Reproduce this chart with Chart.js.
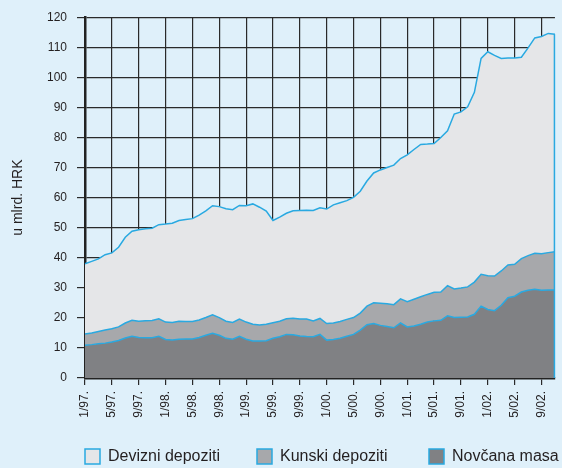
<!DOCTYPE html>
<html>
<head>
<meta charset="utf-8">
<script src="https://cdn.jsdelivr.net/npm/chart.js@4.4.1/dist/chart.umd.min.js"></script>
<style>
  html, body { margin: 0; padding: 0; background: #dff0fa; }
  #wrap { width: 562px; height: 468px; }
</style>
</head>
<body>
<div id="wrap"><canvas id="chart"></canvas></div>
<script>
// --- DATA (u mlrd. HRK, monthly 1/97 - 11/02) ---
const seriesNames = ["Novčana masa", "Kunski depoziti", "Devizni depoziti"];

const novcanaMasa = [
  10.9, 11.1, 11.4, 11.6, 12.0, 12.5, 13.3, 13.9, 13.5, 13.4, 13.4, 13.9,
  12.8, 12.6, 12.9, 13.0, 13.0, 13.5, 14.2, 14.9, 14.2, 13.2, 12.9, 13.9,
  12.9, 12.3, 12.3, 12.4, 13.2, 13.7, 14.5, 14.4, 14.0, 13.8, 13.7, 14.5,
  12.6, 12.8, 13.2, 13.9, 14.5, 15.9, 17.7, 18.1, 17.5, 17.1, 16.7, 18.3,
  17.0, 17.3, 17.9, 18.6, 19.0, 19.2, 20.7, 20.1, 20.2, 20.3, 21.2, 23.9,
  22.8, 22.4, 24.2, 26.7, 27.2, 28.6, 29.2, 29.5, 29.2, 29.3, 29.3
];
const kunskiDepoziti = [
  3.7, 3.9, 4.1, 4.4, 4.4, 4.5, 5.0, 5.3, 5.4, 5.6, 5.7, 5.8,
  5.8, 5.9, 6.0, 5.8, 5.8, 5.8, 5.9, 6.1, 5.9, 5.7, 5.6, 5.7,
  5.7, 5.6, 5.3, 5.5, 5.2, 5.2, 5.2, 5.5, 5.6, 5.8, 5.3, 5.3,
  5.5, 5.5, 5.6, 5.6, 5.6, 5.7, 6.2, 6.9, 7.4, 7.6, 7.7, 8.0,
  8.4, 8.9, 9.1, 9.2, 9.5, 9.4, 10.0, 9.5, 9.7, 10.0, 10.7, 10.6,
  11.2, 11.5, 11.4, 10.9, 10.6, 11.1, 11.5, 12.0, 12.1, 12.4, 12.7
];
const devizniDepoziti = [
  23.4, 23.8, 24.1, 25.0, 25.2, 26.5, 28.5, 29.6, 30.4, 30.6, 30.7, 31.3,
  32.6, 33.0, 33.5, 33.9, 34.2, 34.9, 35.5, 36.3, 36.9, 37.4, 37.5, 37.8,
  38.7, 40.0, 39.2, 37.6, 34.0, 34.6, 35.1, 35.7, 36.1, 36.2, 36.7, 36.8,
  38.1, 39.3, 39.5, 39.5, 40.0, 40.5, 41.6, 43.2, 44.3, 45.3, 46.4, 46.7,
  48.8, 49.8, 50.7, 50.0, 49.5, 51.4, 51.5, 58.2, 58.6, 59.9, 63.1, 71.8,
  74.5, 73.4, 70.7, 68.8, 68.6, 67.0, 69.1, 71.6, 72.3, 72.9, 72.3
];

// month labels "1/97." ... "11/02."
const months = [];
for (let y = 1997; y <= 2002; y++) {
  for (let m = 1; m <= 12; m++) {
    if (y === 2002 && m > 11) break;
    months.push(m + "/" + String(y % 100).padStart(2, "0") + ".");
  }
}
const labelEvery = 4;

// --- STYLE ---
const lineBlue = "#29a9e1";
const fills = ["#808184", "#a7a8ab", "#e5e6e8"];
const gridDark = "#2a2a2a";
const textColor = "#231f20";
const font = "'Liberation Sans', Arial, sans-serif";

const bgPlugin = {
  id: "bg",
  beforeDraw(chart) {
    const ctx = chart.ctx;
    ctx.save();
    ctx.fillStyle = "#dff0fa";
    ctx.fillRect(0, 0, chart.width, chart.height);
    ctx.restore();
  }
};

// blue edge closing the stacked area on the right
const edgePlugin = {
  id: "rightEdge",
  afterDatasetsDraw(chart) {
    const meta = chart.getDatasetMeta(chart.data.datasets.length - 1);
    const last = meta.data[meta.data.length - 1];
    if (!last) return;
    const ctx = chart.ctx;
    ctx.save();
    ctx.strokeStyle = lineBlue;
    ctx.lineWidth = 1.5;
    ctx.beginPath();
    ctx.moveTo(last.x - 0.5, last.y);
    ctx.lineTo(last.x - 0.5, chart.scales.y.getPixelForValue(0));
    ctx.stroke();
    ctx.restore();
  }
};

// legend spread over the plot width, last series first
const legendPlugin = {
  id: "spreadLegend",
  afterDraw(chart) {
    const { ctx, chartArea } = chart;
    const items = chart.data.datasets.slice().reverse();
    const slot = chartArea.width * 0.366;
    const top = chart.height - 19;
    ctx.save();
    ctx.font = "16px " + font;
    ctx.textBaseline = "middle";
    items.forEach((ds, i) => {
      const x = chartArea.left + i * slot;
      ctx.fillStyle = ds.backgroundColor;
      ctx.fillRect(x, top, 15, 15);
      ctx.strokeStyle = ds.borderColor;
      ctx.lineWidth = 1.5;
      ctx.strokeRect(x, top, 15, 15);
      ctx.fillStyle = textColor;
      ctx.fillText(ds.label, x + 23, top + 8);
    });
    ctx.restore();
  }
};

const values = [novcanaMasa, kunskiDepoziti, devizniDepoziti];

new Chart(document.getElementById("chart"), {
  type: "line",
  data: {
    labels: months,
    datasets: values.map((v, i) => ({
      label: seriesNames[i],
      data: v,
      fill: i === 0 ? "origin" : "-1",
      backgroundColor: fills[i],
      borderColor: lineBlue,
      borderWidth: 1.5,
      pointRadius: 0,
      tension: 0
    }))
  },
  options: {
    responsive: true,
    maintainAspectRatio: false,
    animation: false,
    layout: { padding: { top: 16, right: 3, bottom: 40, left: 0 } },
    plugins: {
      tooltip: { enabled: false },
      legend: { display: false }
    },
    scales: {
      x: {
        afterFit(scale) { scale.height = 50; },
        grid: { color: gridDark, lineWidth: 1.2, tickLength: 7 },
        border: { color: "#222", width: 2.5 },
        ticks: {
          autoSkip: false,
          minRotation: 90,
          maxRotation: 90,
          padding: 6,
          color: textColor,
          font: { family: font, size: 12 },
          callback(val, idx) { return idx % labelEvery === 0 ? this.getLabelForValue(val) : null; }
        }
      },
      y: {
        stacked: true,
        min: 0,
        max: 120,
        afterFit(scale) { scale.width = 85; },
        grid: { color: gridDark, lineWidth: 1.2, tickLength: 8 },
        border: { color: "#222", width: 2.5 },
        ticks: {
          stepSize: 10,
          padding: 10,
          color: textColor,
          font: { family: font, size: 12 }
        },
        title: {
          display: true,
          text: "u mlrd. HRK",
          color: textColor,
          font: { family: font, size: 14 },
          padding: { top: 10, bottom: 0 }
        }
      }
    }
  },
  plugins: [bgPlugin, edgePlugin, legendPlugin]
});
</script>
</body>
</html>
